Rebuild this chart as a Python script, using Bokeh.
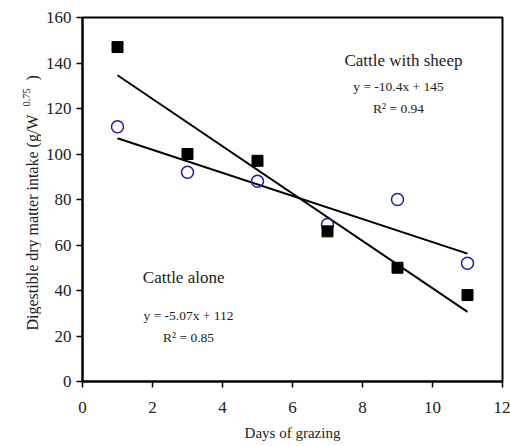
import numpy as np
from bokeh.plotting import figure
from bokeh.models import Label, FixedTicker, Range1d
from bokeh.layouts import row
from bokeh.embed import file_html
from bokeh.resources import INLINE

# ---- data ----
days = [1, 3, 5, 7, 9, 11]
cattle_with_sheep = [147, 100, 97, 66, 50, 38]
cattle_alone = [112, 92, 88, 69, 80, 52]

sheep_slope, sheep_intercept = -10.4, 145
alone_slope, alone_intercept = -5.07, 112

x_ticks = [0, 2, 4, 6, 8, 10, 12]
y_ticks = [0, 20, 40, 60, 80, 100, 120, 140, 160]

FONT = "Liberation Serif"
TXT = "#222222"
W, H = 510, 446
LW = 41           # width of the strip holding the y-axis title
FTOP, FBOT = 17, 381  # frame top / bottom in page pixels

p = figure(width=W - LW, height=H, x_range=(0, 12), y_range=(0, 160),
           output_backend="svg", toolbar_location=None,
           min_border_left=82 - LW, min_border_right=8, min_border_top=FTOP,
           min_border_bottom=H - FBOT)
p.grid.visible = False
p.background_fill_color = "white"
p.border_fill_color = "white"
p.outline_line_color = "black"
p.outline_line_width = 2

for ax in (p.xaxis[0], p.yaxis[0]):
    ax.axis_line_width = 2
    ax.axis_line_color = "black"
    ax.major_tick_line_color = "black"
    ax.major_tick_line_width = 1.5
    ax.major_tick_out = 6
    ax.major_tick_in = 0
    ax.minor_tick_line_color = None
    ax.major_label_text_font = FONT
    ax.major_label_text_font_size = "17px"
    ax.major_label_text_color = TXT

p.xaxis.ticker = FixedTicker(ticks=x_ticks)
p.yaxis.ticker = FixedTicker(ticks=y_ticks)
p.xaxis.major_label_standoff = 14
p.yaxis.major_label_standoff = 5

p.xaxis.axis_label = "Days of grazing"
p.xaxis.axis_label_text_font = FONT
p.xaxis.axis_label_text_font_size = "15px"
p.xaxis.axis_label_text_font_style = "normal"
p.xaxis.axis_label_text_color = TXT
p.xaxis.axis_label_standoff = 9

# regression lines
xs = np.array([days[0], days[-1]], dtype=float)
p.line(xs, sheep_slope * xs + sheep_intercept, line_color="black", line_width=2)
p.line(xs, alone_slope * xs + alone_intercept, line_color="black", line_width=2)

# points
p.scatter(days, cattle_alone, marker="circle", size=12, fill_color=None,
          line_color="#1f1fa3", line_width=1.5)
p.scatter(days, cattle_with_sheep, marker="square", size=11, fill_color="black",
          line_color="black")

def lab(fig, x, y, text, size, **kw):
    fig.add_layout(Label(x=x, y=y, text=text, text_font=FONT, text_font_size=size,
                         text_color=TXT, text_align=kw.pop("align", "center"),
                         text_baseline=kw.pop("baseline", "middle"), **kw))

lab(p, 9.17, 141.1, "Cattle with sheep", "17px")
lab(p, 9.03, 129.7, "y = -10.4x + 145", "13.5px")
lab(p, 9.03, 120.0, "R\u00b2 = 0.94", "13.5px")
lab(p, 2.89, 45.7, "Cattle alone", "17px")
lab(p, 3.03, 29.0, "y = -5.07x + 112", "13.5px")
lab(p, 3.03, 19.3, "R\u00b2 = 0.85", "13.5px")

# strip with the y-axis title (with superscript).
# Its frame is aligned with the main frame, so data units = page pixels.
q = figure(width=LW, height=H, x_range=Range1d(0, LW), y_range=Range1d(FBOT, FTOP),
           output_backend="svg", toolbar_location=None,
           x_axis_location=None, y_axis_location=None,
           min_border_left=0, min_border_right=0,
           min_border_top=FTOP, min_border_bottom=H - FBOT)
q.grid.visible = False
q.outline_line_color = None
q.background_fill_color = "white"
q.border_fill_color = "white"

def sl(px, py, text, size):
    lab(q, px, py, text, size, angle=np.pi / 2, align="left")

sl(32, 330, "Digestible dry matter intake (g/W", "16px")
sl(26, 106, "0.75", "10.5px")
sl(32, 80, ")", "16px")

layout = row(q, p, spacing=0)
open("out.html", "w").write(file_html(layout, INLINE))
